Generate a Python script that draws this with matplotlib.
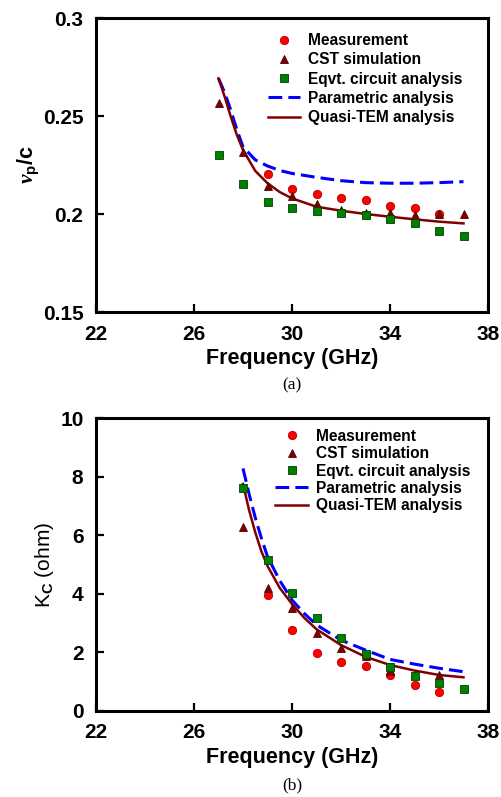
import matplotlib
matplotlib.use("Agg")
import matplotlib.pyplot as plt

plt.rcParams['font.family'] = ['Liberation Sans', 'DejaVu Sans']
plt.rcParams['font.weight'] = 'bold'
plt.rcParams['mathtext.fontset'] = 'custom'
plt.rcParams['mathtext.rm'] = 'Liberation Sans'
plt.rcParams['mathtext.it'] = 'Liberation Serif:italic:bold'
plt.rcParams['mathtext.bf'] = 'Liberation Sans:bold'

# ---------------- data (a) ----------------
f_meas_a = [29, 30, 31, 32, 33, 34, 35, 36]
meas_a = [0.2203, 0.2126, 0.2102, 0.2082, 0.2071, 0.2041, 0.2032, 0.2000]
f_cst_a = [27, 28, 29, 30, 31, 32, 33, 34, 35, 36, 37]
cst_a = [0.2565, 0.2318, 0.2143, 0.2092, 0.2051, 0.2020, 0.2005, 0.2003, 0.1995, 0.2002, 0.2000]
f_eq_a = [27, 28, 29, 30, 31, 32, 33, 34, 35, 36, 37]
eq_a = [0.2300, 0.2151, 0.2063, 0.2029, 0.2017, 0.2007, 0.1995, 0.1974, 0.1952, 0.1915, 0.1888]
f_line_a = [27, 27.25, 27.5, 27.75, 28, 28.5, 29, 29.5, 30, 31, 32, 33, 34, 35, 36, 37]
quasi_a = [0.2692, 0.2599, 0.2497, 0.2403, 0.2327, 0.2220, 0.2157, 0.2112, 0.2080, 0.2037, 0.2017,
           0.2000, 0.1986, 0.1973, 0.1961, 0.1952]
param_a = [0.2692, 0.2620, 0.2530, 0.2430, 0.2343, 0.2276, 0.2245, 0.2222, 0.2207, 0.2187, 0.2170,
           0.2160, 0.2157, 0.2157, 0.2160, 0.2165]

# ---------------- data (b) ----------------
f_meas_b = [29, 30, 31, 32, 33, 34, 35, 36]
meas_b = [3.96, 2.76, 1.99, 1.68, 1.54, 1.23, 0.89, 0.66]
f_cst_b = [28, 29, 30, 31, 32, 33, 34, 35, 36]
cst_b = [6.29, 4.19, 3.50, 2.65, 2.16, 1.88, 1.37, 1.22, 1.23]
f_eq_b = [28, 29, 30, 31, 32, 33, 34, 35, 36, 37]
eq_b = [7.60, 5.15, 4.04, 3.16, 2.48, 1.95, 1.51, 1.19, 0.94, 0.74]
f_line_b = [28, 28.25, 28.5, 28.75, 29, 29.5, 30, 30.5, 31, 32, 33, 34, 35, 36, 37]
quasi_b = [7.75, 6.85, 6.10, 5.45, 4.95, 4.20, 3.65, 3.18, 2.79, 2.25, 1.85, 1.57, 1.38, 1.23, 1.15]
param_b = [8.28, 7.40, 6.60, 5.90, 5.27, 4.45, 3.79, 3.33, 2.94, 2.42, 2.08, 1.76, 1.60, 1.46, 1.34]

xticks = [22, 26, 30, 34, 38]
yticks_a = [0.15, 0.2, 0.25, 0.3]
ytick_labels_a = ['0.15', '0.2', '0.25', '0.3']
yticks_b = [0, 2, 4, 6, 8, 10]

labels = ['Measurement', 'CST simulation', 'Eqvt. circuit analysis',
          'Parametric analysis', 'Quasi-TEM analysis']

fig = plt.figure(figsize=(5.01, 7.97), dpi=100)
ax1 = fig.add_axes([96/501, 1-312/797, 392/501, 294/797])
ax2 = fig.add_axes([96/501, 1-711/797, 392/501, 293/797])


def draw(ax, fm, m, fc, c, fe, e, fl, q, p):
    h1, = ax.plot(fm, m, 'o', color='#ff0000', mec='#b00000', mew=0.6, ms=6, ls='none', zorder=3)
    h2, = ax.plot(fc, c, '^', color='#800000', mec='#500000', mew=0.6, ms=6, ls='none', zorder=4)
    h3, = ax.plot(fe, e, 's', color='#008000', mec='#004000', mew=0.6, ms=6, ls='none', zorder=5)
    h4, = ax.plot(fl, p, color='#0000ff', lw=2.2, dashes=(4.5, 2.0), zorder=2)
    h5, = ax.plot(fl, q, color='#800000', lw=1.8, zorder=2)
    return [h1, h2, h3, h4, h5]


def style(ax):
    for s in ax.spines.values():
        s.set_linewidth(2.2)
    ax.tick_params(direction='in', length=6, width=1.6, labelsize=15,
                   top=False, right=False)
    ax.tick_params(axis='x', pad=9)
    ax.tick_params(axis='y', pad=9)
    ax.set_xlim(22, 38)
    ax.set_xticks(xticks)
    ax.set_xlabel('Frequency (GHz)', fontsize=15.5, fontweight='bold', labelpad=3)
    for t in ax.get_xticklabels() + ax.get_yticklabels():
        t.set_fontweight('bold')


hs = draw(ax1, f_meas_a, meas_a, f_cst_a, cst_a, f_eq_a, eq_a, f_line_a, quasi_a, param_a)
ax1.set_ylim(0.15, 0.3)
ax1.set_yticks(yticks_a)
ax1.set_yticklabels(ytick_labels_a)
style(ax1)
ax1.set_ylabel(r'$\mathit{v}_{\mathrm{p}}$/c', fontsize=15.5, fontweight='bold', labelpad=1)
ax1.legend(hs, labels, loc='upper left', bbox_to_anchor=(0.41, 0.985), frameon=False,
           handlelength=2.1, handletextpad=0.5, labelspacing=0.27,
           borderaxespad=0.3, prop={'weight': 'bold', 'size': 11.2})

hs = draw(ax2, f_meas_b, meas_b, f_cst_b, cst_b, f_eq_b, eq_b, f_line_b, quasi_b, param_b)
ax2.set_ylim(0, 10)
ax2.set_yticks(yticks_b)
style(ax2)
ax2.set_ylabel(r'K$_{\mathrm{C}}$ (ohm)', fontsize=15, fontweight='normal', labelpad=3)
ax2.legend(hs, labels, loc='upper left', bbox_to_anchor=(0.43, 1.0), frameon=False,
           handlelength=2.1, handletextpad=0.5, labelspacing=0.15,
           borderaxespad=0.3, prop={'weight': 'bold', 'size': 11.2})

fig.text(292/501, 1-385/797, '(a)', ha='center', va='center', fontsize=12.5,
         family='Liberation Serif', fontweight='normal')
fig.text(292/501, 1-785/797, '(b)', ha='center', va='center', fontsize=12.5,
         family='Liberation Serif', fontweight='normal')

fig.savefig('out.png', dpi=100)
